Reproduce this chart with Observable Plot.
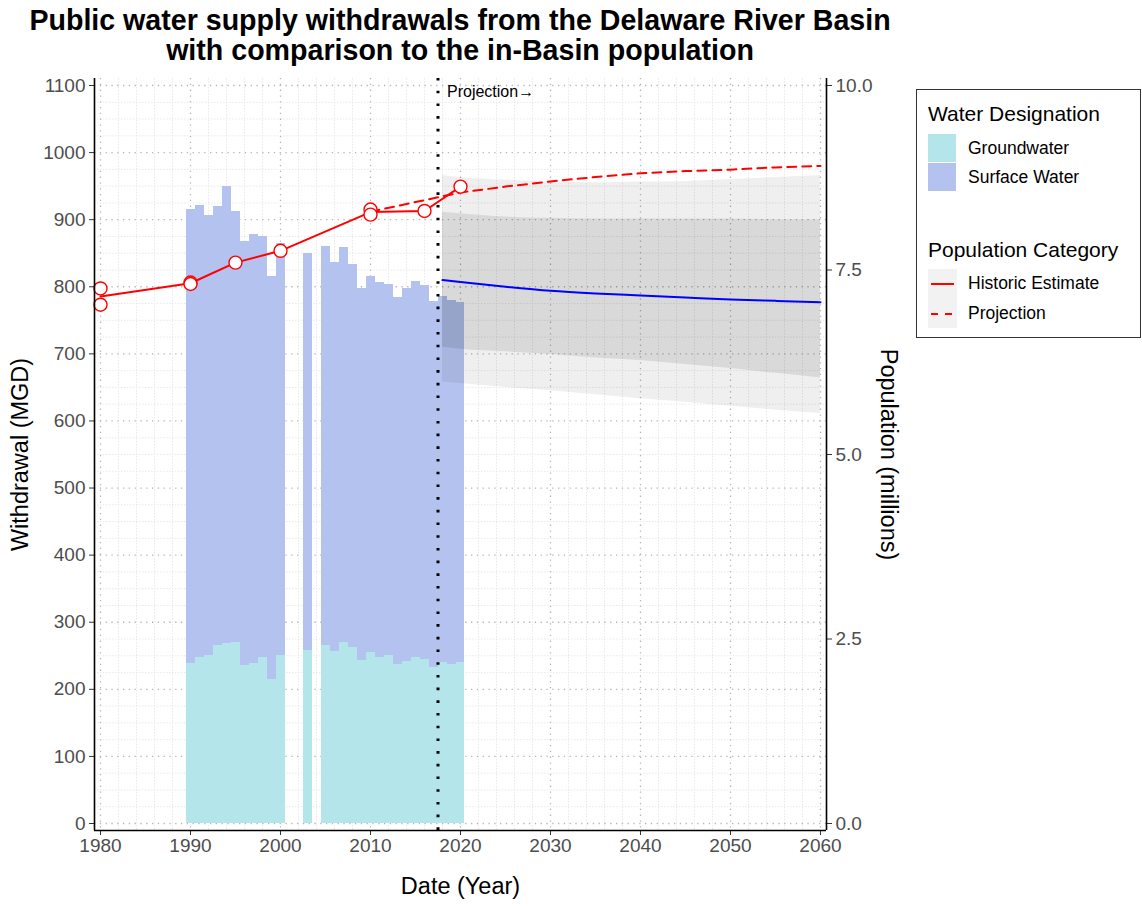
<!DOCTYPE html>
<html>
<head>
<meta charset="utf-8">
<script src="https://cdn.jsdelivr.net/npm/d3@7"></script>
<script src="https://cdn.jsdelivr.net/npm/@observablehq/plot@0.6"></script>
<style>
  body { margin: 0; background: #fff; font-family: "Liberation Sans", Arial, sans-serif; }
  #wrap { position: relative; width: 1142px; height: 909px; overflow: hidden; background: #fff; }
  #title { position: absolute; left: 0; top: 5px; width: 920px; text-align: center; font-weight: bold;
           font-size: 28.6px; line-height: 30px; color: #000; }
  #chart { position: absolute; left: 0; top: 0; }
  #legend { position: absolute; left: 916px; top: 89px; width: 225px; height: 249px;
            border: 1px solid #333; box-sizing: border-box; background: #fff; }
  .lt { position: absolute; white-space: nowrap; color: #000; }
</style>
</head>
<body>
<div id="wrap">
  <div id="chart"></div>
  <div id="title">Public water supply withdrawals from the Delaware River Basin<br>with comparison to the in-Basin population</div>
  <div id="legend"></div>
</div>
<script>
// ---------- data ----------
const years = [1990,1991,1992,1993,1994,1995,1996,1997,1998,1999,2000,2003,
               2005,2006,2007,2008,2009,2010,2011,2012,2013,2014,2015,2016,2017,2018,2019,2020];
const groundwater = [238,248,250,265,268,270,236,238,248,215,250,258,
                     266,257,270,262,243,255,247,250,237,241,247,244,232,240,237,240];
const surfaceWater = [677,673,656,654,682,642,632,640,627,601,615,592,
                      594,579,589,571,555,560,559,554,547,557,561,558,546,546,543,536];

const popHistYears = [1980,1980,1990,1990,1995,2000,2010,2010,2016,2020];
const popHist      = [7.25,7.03,7.33,7.31,7.60,7.76,8.32,8.25,8.30,8.63];

const popProjYears = [2010,2015,2020,2025,2030,2035,2040,2045,2050,2055,2060];
const popProj      = [8.29,8.42,8.55,8.63,8.70,8.76,8.81,8.84,8.86,8.89,8.91];

const wdYears   = [2018,2020,2025,2030,2035,2040,2045,2050,2055,2060];
const wdMid     = [810,807,800,794,790,787,784,781,779,777];
const wdInnerLo = [710,707,703,699,694,690,684,678,671,664];
const wdInnerHi = [911,909,904,902,901,901,901,901,900,900];
const wdOuterLo = [658,656,650,645,639,633,628,622,616,611];
const wdOuterHi = [966,963,959,956,955,956,957,960,963,966];

const projectionStart = 2017.5;
const projectionLabel = "Projection\u2192";

const waterTypes  = ["Groundwater", "Surface Water"];
const waterColors = ["#b4e5ea", "#b3c2ee"];
const popCats     = ["Historic Estimate", "Projection"];

const xTicks = [1980,1990,2000,2010,2020,2030,2040,2050,2060];
const yTicks = [0,100,200,300,400,500,600,700,800,900,1000,1100];
const popTicks = [0, 2.5, 5.0, 7.5, 10.0];
const popToMGD = 110;   // 10 million people <-> 1100 MGD on the secondary axis

const xDomain = [1979.333, 2060.667];
const yDomain = [-10.43, 1110.43];

// ---------- derived tables ----------
const barRows = years.flatMap((yr, i) => [
  {year: yr, type: waterTypes[0], y1: 0, y2: groundwater[i]},
  {year: yr, type: waterTypes[1], y1: groundwater[i], y2: groundwater[i] + surfaceWater[i]}
]);
const popRows  = popHistYears.map((yr, i) => ({year: yr, v: popHist[i] * popToMGD}));
const projRows = popProjYears.map((yr, i) => ({year: yr, v: popProj[i] * popToMGD}));
const wdRows = wdYears.map((yr, i) => ({year: yr, mid: wdMid[i], ilo: wdInnerLo[i], ihi: wdInnerHi[i],
                                          olo: wdOuterLo[i], ohi: wdOuterHi[i]}));

const minorY = d3.range(0, 1101, 25).filter(v => v % 100 !== 0);
const minorX = d3.range(1980, 2061, 2).filter(v => v % 10 !== 0);

const font = "'Liberation Sans', Arial, sans-serif";

const chart = Plot.plot({
  width: 1142, height: 909,
  marginLeft: 94, marginRight: 316, marginTop: 78, marginBottom: 79,
  style: {background: "transparent", fontFamily: font, overflow: "visible"},
  x: {domain: xDomain},
  y: {domain: yDomain},
  color: {domain: waterTypes, range: waterColors},
  marks: [
    // grid
    Plot.ruleY(minorY, {stroke: "#e3e3e3", strokeWidth: 0.8, strokeDasharray: "1.5,1.5"}),
    Plot.ruleX(minorX, {stroke: "#e3e3e3", strokeWidth: 0.8, strokeDasharray: "1.5,1.5"}),
    Plot.ruleY(yTicks, {stroke: "#b5b5b5", strokeWidth: 1.3, strokeDasharray: "1.3,4.5"}),
    Plot.ruleX(xTicks, {stroke: "#b5b5b5", strokeWidth: 1.3, strokeDasharray: "1.3,4.5"}),
    // bars
    Plot.rect(barRows, {x1: d => d.year - 0.5, x2: d => d.year + 0.5, y1: "y1", y2: "y2",
                        fill: "type", shapeRendering: "crispEdges"}),
    // projection ribbons
    Plot.areaY(wdRows, {x: "year", y1: "olo", y2: "ohi", fill: "black", fillOpacity: 0.063, curve: "monotone-x"}),
    Plot.areaY(wdRows, {x: "year", y1: "ilo", y2: "ihi", fill: "black", fillOpacity: 0.092, curve: "monotone-x"}),
    Plot.line(wdRows, {x: "year", y: "mid", stroke: "#0000ff", strokeWidth: 2, curve: "monotone-x"}),
    // projection start line
    Plot.ruleX([projectionStart], {stroke: "black", strokeWidth: 3, strokeDasharray: "2.6,10.1"}),
    Plot.text([projectionLabel], {x: 2018.5, y: 1090, text: d => d, textAnchor: "start",
                                  lineAnchor: "middle", fontSize: 16, fill: "black"}),
    // population
    Plot.line(projRows, {x: "year", y: "v", stroke: "#ff0000", strokeWidth: 2, strokeDasharray: "9,6"}),
    Plot.line(popRows, Plot.groupX({y: "mean"}, {x: "year", y: "v", stroke: "#ff0000", strokeWidth: 2})),
    Plot.dot(popRows, {x: "year", y: "v", r: 6.5, fill: "white", stroke: "#ff0000", strokeWidth: 1.4}),
    // axes
    Plot.axisX({ticks: xTicks, tickFormat: d => String(d), tickSize: 5, tickPadding: 3, fontSize: 19,
                label: null, stroke: "#333", fill: "#4d4d4d"}),
    Plot.axisY({ticks: yTicks, tickFormat: d => String(d), tickSize: 5, tickPadding: 4, fontSize: 19,
                label: null, stroke: "#333", fill: "#4d4d4d"}),
    Plot.axisY({anchor: "right", ticks: popTicks.map(p => p * popToMGD),
                tickFormat: v => (v / popToMGD).toFixed(1), tickSize: 5, tickPadding: 4, fontSize: 19,
                label: null, stroke: "#333", fill: "#4d4d4d"}),
    Plot.ruleX([xDomain[0]], {stroke: "black", strokeWidth: 1.6}),
    Plot.ruleX([xDomain[1]], {stroke: "black", strokeWidth: 1.6}),
    Plot.ruleY([yDomain[0]], {stroke: "black", strokeWidth: 1.6}),
    // axis titles
    Plot.text(["Withdrawal (MGD)"], {frameAnchor: "left", dx: -74, rotate: -90, text: d => d,
                                     textAnchor: "middle", lineAnchor: "middle", fontSize: 23.5, fill: "black"}),
    Plot.text(["Population (millions)"], {frameAnchor: "right", dx: 62, rotate: 90, text: d => d,
                                     textAnchor: "middle", lineAnchor: "middle", fontSize: 23.5, fill: "black"}),
    Plot.text(["Date (Year)"], {frameAnchor: "bottom", dy: 56, text: d => d,
                                     textAnchor: "middle", lineAnchor: "middle", fontSize: 23.5, fill: "black"})
  ]
});
document.getElementById("chart").appendChild(chart);

// ---------- legend ----------
const lg = document.getElementById("legend");
function addText(txt, left, centerY, size) {
  const d = document.createElement("div");
  d.className = "lt";
  d.textContent = txt;
  d.style.left = left + "px";
  d.style.fontSize = size + "px";
  d.style.lineHeight = (size + 4) + "px";
  d.style.top = (centerY - (size + 4) / 2) + "px";
  lg.appendChild(d);
}
// positions relative to the legend box (box left 916, top 89)
addText("Water Designation", 11, 23, 21);
waterTypes.forEach((t, i) => {
  const sw = document.createElement("div");
  sw.style.cssText = `position:absolute;left:11px;top:${44 + i * 29}px;width:28px;height:28px;background:${waterColors[i]};`;
  lg.appendChild(sw);
  addText(t, 51, 59 + i * 29, 17.5);
});
addText("Population Category", 11, 159, 21);
const keyBg = document.createElement("div");
keyBg.style.cssText = "position:absolute;left:11px;top:179px;width:29px;height:59px;background:#f2f2f2;";
lg.appendChild(keyBg);
const ns = "http://www.w3.org/2000/svg";
popCats.forEach((t, i) => {
  const s = document.createElementNS(ns, "svg");
  s.setAttribute("width", 29); s.setAttribute("height", 29);
  s.style.cssText = `position:absolute;left:11px;top:${179 + i * 30}px;`;
  const l = document.createElementNS(ns, "line");
  l.setAttribute("x1", 3); l.setAttribute("x2", 26); l.setAttribute("y1", 15); l.setAttribute("y2", 15);
  l.setAttribute("stroke", "#ff0000"); l.setAttribute("stroke-width", 2);
  if (i === 1) l.setAttribute("stroke-dasharray", "7,7");
  s.appendChild(l);
  lg.appendChild(s);
  addText(t, 51, 194 + i * 30, 17.5);
});
</script>
</body>
</html>
